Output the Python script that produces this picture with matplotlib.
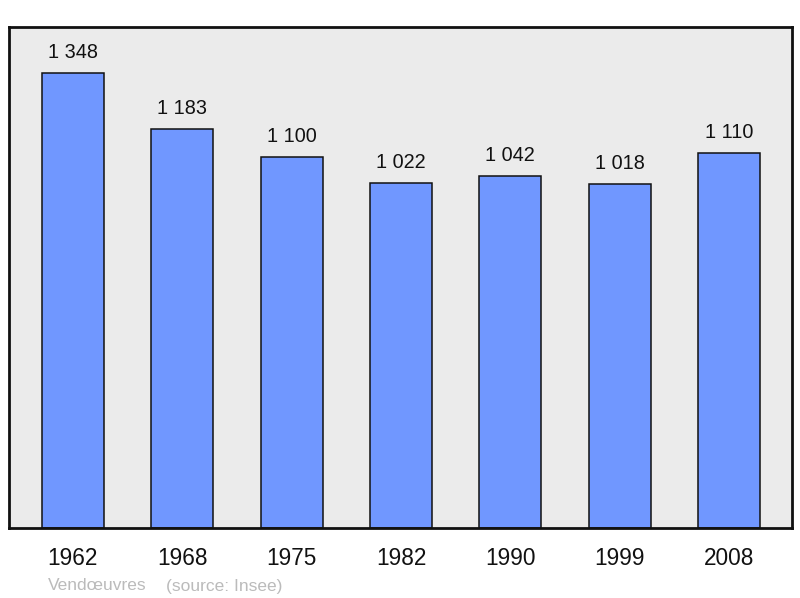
import matplotlib
matplotlib.use("Agg")
import matplotlib.pyplot as plt

years = ["1962", "1968", "1975", "1982", "1990", "1999", "2008"]
population = [1348, 1183, 1100, 1022, 1042, 1018, 1110]
value_labels = ["1 348", "1 183", "1 100", "1 022", "1 042", "1 018", "1 110"]
footer_commune = "Vendœuvres"
footer_source = "(source: Insee)"

plt.rcParams['font.family'] = ['Liberation Sans', 'DejaVu Sans']

W, H = 800, 598
fig = plt.figure(figsize=(W / 100, H / 100), dpi=100)
ax = fig.add_axes([9 / W, (H - 528) / H, 783 / W, 501 / H])
ax.set_facecolor("#ebebeb")

x = list(range(len(years)))
ax.bar(x, population, width=0.566, color="#7097ff", edgecolor="#111111",
       linewidth=1.1, zorder=2)
for xi, v, lab in zip(x, population, value_labels):
    ax.annotate(lab, (xi, v), xytext=(0, 8), textcoords="offset points",
                ha="center", va="bottom", fontsize=14.3, color="#111111")

ax.set_xlim(-0.584, 6.575)
ax.set_ylim(0, 1484)
ax.set_yticks([])
ax.set_xticks(x)
ax.set_xticklabels(years, fontsize=16.3, color="#111111")
ax.tick_params(axis="x", length=0, pad=14)
for s in ax.spines.values():
    s.set_linewidth(2)
    s.set_color("#111111")

fig.text(48 / W, 1 - 586 / H, footer_commune, fontsize=12.5, color="#bbbbbb",
         ha="left", va="center")
fig.text(166 / W, 1 - 586 / H, footer_source, fontsize=12.5, color="#bbbbbb",
         ha="left", va="center")

fig.savefig("out.png", dpi=100, facecolor="white")
